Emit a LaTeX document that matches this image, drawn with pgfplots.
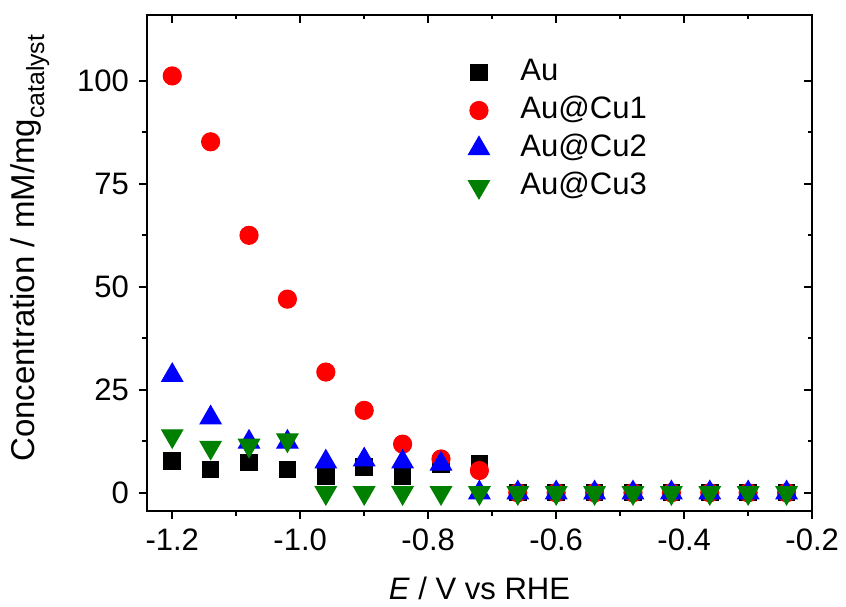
\documentclass[border=0pt]{standalone}
\usepackage{pgfplots}
\pgfplotsset{compat=1.18}
\usepackage{fontspec}
\setmainfont{Liberation Sans}
\definecolor{cgreen}{RGB}{0,128,0}
\begin{document}
\begin{tikzpicture}
\pgfplotsset{
  common/.style={
    scale only axis, width=236pt, height=176pt,
    xmin=-1.24, xmax=-0.2, ymin=-4.5, ymax=116,
    xtick={-1.2,-1.0,...,-0.19}, ytick={0,25,50,75,100},
    minor x tick num=1, minor y tick num=1,
    major tick length=2.8pt, minor tick length=1.6pt,
    every tick/.style={black, line width=0.6pt},
    axis line style={line width=0.7pt},
  }
}
\begin{axis}[common,
  axis x line*=top, axis y line*=right, tick align=inside,
  xticklabels={}, yticklabels={}]
\end{axis}
\begin{axis}[common,
  xtick pos=bottom, ytick pos=left, tick align=outside,
  /pgf/number format/assume math mode=true,
  xticklabel style={/pgf/number format/.cd, fixed, fixed zerofill, precision=1},
  yticklabel style={/pgf/number format/.cd, fixed},
  ticklabel style={font=\fontsize{11}{13}\selectfont},
  xlabel={\textit{E} / V vs RHE},
  ylabel={Concentration / mM/mg\raisebox{-0.28em}{\fontsize{8.8}{10}\selectfont catalyst}},
  every axis x label/.style={at={(rel axis cs:0.5,-0.177)}, anchor=base, font=\fontsize{11}{13}\selectfont},
  every axis y label/.style={at={(rel axis cs:-0.168,0.53)}, anchor=base, rotate=90, font=\fontsize{11.7}{13}\selectfont},
  legend style={at={(0.47,0.935)}, anchor=north west, draw=none, fill=none,
    font=\fontsize{11}{13}\selectfont, row sep=0pt,
    nodes={text height=8.2pt, text depth=2.3pt, inner sep=1.5pt},
    /tikz/every odd column/.append style={column sep=9.5pt}},
  legend cell align=left,
]
\coordinate (sw) at (rel axis cs:0,0);
\coordinate (ne) at (rel axis cs:1,1);
\addplot[only marks, mark=square*, mark size=2.9pt, black] coordinates {
(-1.20,7.7) (-1.14,5.6) (-1.08,7.3) (-1.02,5.6) (-0.96,4.1) (-0.90,6.3)
(-0.84,4.1) (-0.78,6.8) (-0.72,7.0) (-0.66,0) (-0.60,0) (-0.54,0) (-0.48,0)
(-0.42,0) (-0.36,0) (-0.30,0) (-0.24,0)};
\addlegendentry{Au}
\addplot[only marks, mark=*, mark size=3.2pt, red] coordinates {
(-1.20,101.2) (-1.14,85.2) (-1.08,62.5) (-1.02,47.0) (-0.96,29.3) (-0.90,20.0)
(-0.84,11.8) (-0.78,8.2) (-0.72,5.4) (-0.66,0) (-0.60,0) (-0.54,0) (-0.48,0)
(-0.42,0) (-0.36,0) (-0.30,0) (-0.24,0)};
\addlegendentry{Au@Cu1}
\addplot[only marks, mark=triangle*, mark size=4.3pt, blue] coordinates {
(-1.20,28.5) (-1.14,18.2) (-1.08,12.3) (-1.02,12.3) (-0.96,7.5) (-0.90,8.0)
(-0.84,7.5) (-0.78,7.0) (-0.72,0) (-0.66,0) (-0.60,0) (-0.54,0) (-0.48,0)
(-0.42,0) (-0.36,0) (-0.30,0) (-0.24,0)};
\addlegendentry{Au@Cu2}
\addplot[only marks, mark=triangle*, mark options={rotate=180}, mark size=4.3pt, cgreen] coordinates {
(-1.20,13.8) (-1.14,11.0) (-1.08,11.5) (-1.02,12.8) (-0.96,0) (-0.90,0)
(-0.84,0) (-0.78,0) (-0.72,0) (-0.66,0) (-0.60,0) (-0.54,0) (-0.48,0)
(-0.42,0) (-0.36,0) (-0.30,0) (-0.24,0)};
\addlegendentry{Au@Cu3}
\end{axis}
\pgfresetboundingbox
\path[use as bounding box] ([xshift=-52pt,yshift=-33.7pt]sw) rectangle ([xshift=12pt,yshift=5.3pt]ne);
\end{tikzpicture}
\end{document}
